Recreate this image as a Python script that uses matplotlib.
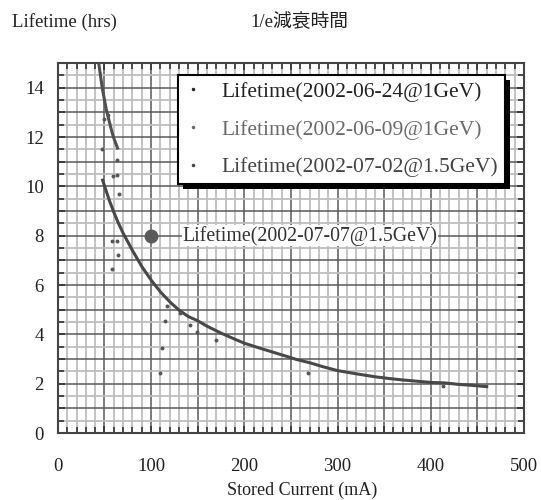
import matplotlib
matplotlib.use('Agg')
import matplotlib.pyplot as plt
from matplotlib.lines import Line2D
from matplotlib.ticker import MultipleLocator, FuncFormatter
import matplotlib.patheffects as pe

# main decay curve (2002-06-24 @ 1GeV)
main_current = [48, 55, 60, 65, 70, 80, 90, 100, 110, 120, 130, 140, 150, 160, 175,
                190, 200, 220, 240, 256, 270, 285, 300, 320, 340, 355, 370, 385,
                400, 415, 430, 445, 460]
main_life = [10.25, 9.45, 8.95, 8.5, 8.1, 7.4, 6.75, 6.2, 5.72, 5.32, 4.98, 4.72, 4.55,
             4.33, 4.05, 3.8, 3.64, 3.4, 3.17, 2.98, 2.85, 2.68, 2.53, 2.4, 2.28, 2.21,
             2.15, 2.1, 2.05, 2.03, 1.97, 1.93, 1.88]

# scattered points (2002-06-09 @ 1GeV)
scat_current = [47, 49, 54, 63.3, 59, 63, 65.5, 57.6, 63, 64, 57.6, 116.6, 114.8, 111.3,
                109.4, 131, 141.6, 148.8, 170, 268, 413]
scat_life = [11.5, 12.75, 12.9, 11.05, 10.4, 10.45, 9.7, 7.8, 7.8, 7.2, 6.65, 5.15, 4.56,
             3.46, 2.45, 4.87, 4.38, 4.11, 3.77, 2.45, 1.9]

# steep upper branch (2002-07-02 @ 1.5GeV)
high_current = [44, 46, 48, 50, 52, 54, 56, 58, 60, 62, 64]
high_life = [14.95, 14.4, 13.9, 13.5, 13.1, 12.8, 12.5, 12.2, 11.95, 11.75, 11.55]

# single point (2002-07-07 @ 1.5GeV)
note_current = [100]
note_life = [8.0]

labels = ['Lifetime(2002-06-24@1GeV)', 'Lifetime(2002-06-09@1GeV)',
          'Lifetime(2002-07-02@1.5GeV)']
label_colors = ['#222222', '#6a6a6a', '#444444']
note_label = 'Lifetime(2002-07-07@1.5GeV)'

serif = ['Liberation Serif', 'DejaVu Serif']
plt.rcParams['font.family'] = serif

fig = plt.figure(figsize=(5.41, 5.0), dpi=100)
ax = fig.add_axes([0.107, 0.134, 0.8616, 0.74])

ax.plot(main_current, main_life, '-', color='#484848', lw=2.2, zorder=3)
ax.plot(high_current, high_life, '-', color='#505050', lw=2.2, zorder=3)
ax.plot(scat_current, scat_life, 'o', color='#555555', ms=1.8, ls='none', zorder=3)
ax.plot(note_current, note_life, 'o', color='#5a5a5a', ms=9, zorder=4)
ax.text(134, note_life[0], note_label, fontsize=14.3, color='#333333', va='center',
        ha='left', zorder=5,
        bbox=dict(facecolor='white', edgecolor='none', pad=0.5))

ax.set_xlim(0, 500)
ax.set_ylim(0, 15)
ax.xaxis.set_major_locator(MultipleLocator(50))
ax.xaxis.set_minor_locator(MultipleLocator(10))
ax.yaxis.set_major_locator(MultipleLocator(1))
ax.yaxis.set_minor_locator(MultipleLocator(0.5))
ax.xaxis.set_major_formatter(FuncFormatter(lambda v, p: f'{int(v)}' if v % 100 == 0 else ''))
ax.yaxis.set_major_formatter(FuncFormatter(lambda v, p: f'{int(v)}' if v % 2 == 0 else ''))

ax.grid(which='major', color='#5a5a5a', lw=1.1, zorder=1)
ax.grid(which='minor', color='#bebebe', lw=1.3, zorder=0)
ax.set_axisbelow(True)
ax.tick_params(which='both', direction='in', top=True, right=True, color='#333333')
ax.tick_params(which='major', length=5, width=1.2)
ax.tick_params(which='minor', length=4, width=1.2)
ax.tick_params(axis='x', which='major', pad=18, labelsize=13.5, labelcolor='#222222')
ax.tick_params(axis='y', which='major', pad=10, labelsize=13.5, labelcolor='#222222')
for s in ax.spines.values():
    s.set_color('#444444')
    s.set_linewidth(1.5)

handles = [Line2D([], [], marker='.', ls='none', color=c, ms=3) for c in label_colors]
leg = ax.legend(handles, labels, loc='upper right', bbox_to_anchor=(0.959, 0.968),
                fontsize=15.5, frameon=True, fancybox=False, framealpha=1,
                edgecolor='black', handlelength=0.8, handletextpad=0.9,
                labelspacing=0.82, borderpad=0.32, borderaxespad=0,
                labelcolor=label_colors)
leg.get_frame().set_linewidth(1.5)
leg.get_frame().set_path_effects([
    pe.SimplePatchShadow(offset=(3.5, -3.5), shadow_rgbFace='black', alpha=1),
    pe.Normal()])
leg.set_zorder(6)

fig.text(0.022, 0.956, 'Lifetime (hrs)', fontsize=13.5, ha='left', va='center',
         color='#222222')
fig.text(0.554, 0.956, '1/e減衰時間', fontsize=13.5, ha='center', va='center',
         color='#222222', family=['Liberation Serif', 'Noto Sans CJK JP'])
fig.text(0.558, 0.02, 'Stored Current (mA)', fontsize=13, ha='center', va='center',
         color='#222222')

fig.savefig('out.png', dpi=100)
